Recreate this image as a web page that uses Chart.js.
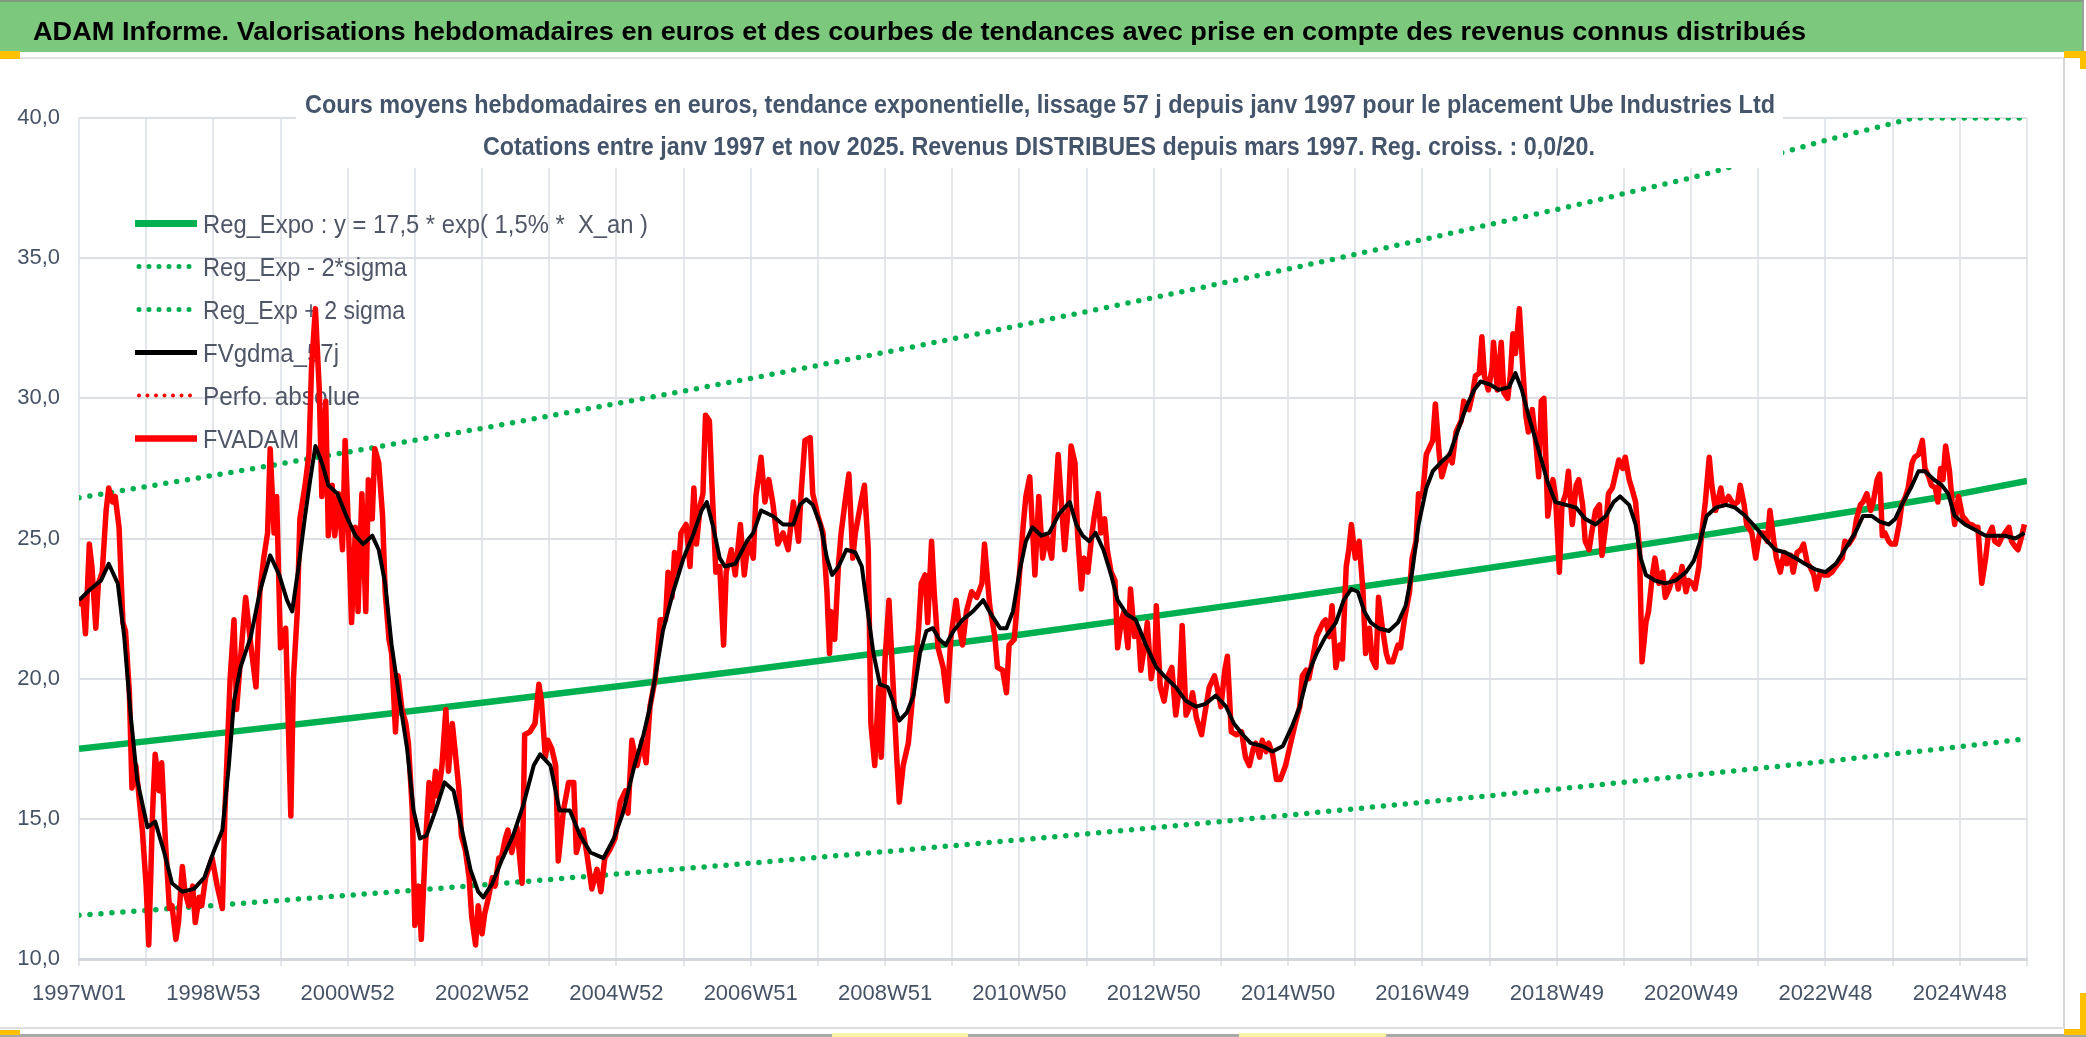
<!DOCTYPE html>
<html><head><meta charset="utf-8">
<script src="https://cdn.jsdelivr.net/npm/chart.js@4.4.1/dist/chart.umd.min.js"></script>
<style>
html,body{margin:0;padding:0;background:#fff;width:2086px;height:1037px;overflow:hidden;position:relative}
.bx{position:absolute}
#c{position:absolute;left:0;top:0;z-index:2}
</style></head>
<body>
<div class="bx" style="left:0;top:0;width:2084px;height:52px;background:#7cc87c;border-top:2px solid #7f9a7f;border-right:2px solid #9aa39a;box-sizing:border-box"></div>
<div class="bx" style="left:0;top:57px;width:2064px;height:2px;background:#dfe1e4"></div>
<div class="bx" style="left:2063px;top:58px;width:2px;height:971px;background:#d4d6d9"></div>
<div class="bx" style="left:0;top:1027px;width:2064px;height:2px;background:#dcdee1"></div>
<div class="bx" style="left:0;top:1034px;width:2086px;height:3px;background:#a9a9a9"></div>
<div class="bx" style="left:832px;top:1033px;width:136px;height:4px;background:#fbf3a6"></div>
<div class="bx" style="left:1239px;top:1033px;width:147px;height:4px;background:#fbf3a6"></div>
<div class="bx" style="left:0;top:51px;width:20px;height:8px;background:#ffc000"></div>
<div class="bx" style="left:2064px;top:51px;width:22px;height:7px;background:#ffc000"></div>
<div class="bx" style="left:2080px;top:51px;width:6px;height:18px;background:#ffc000"></div>
<div class="bx" style="left:0;top:1030px;width:20px;height:5px;background:#ffc000"></div>
<div class="bx" style="left:2080px;top:993px;width:6px;height:42px;background:#ffc000"></div>
<div class="bx" style="left:2064px;top:1029px;width:22px;height:6px;background:#ffc000"></div>
<canvas id="c" width="2086" height="1037"></canvas>
<script>
// ---------- DATA ----------
const tickLabels = ['1997W01','1998W53','2000W52','2002W52','2004W52','2006W51','2008W51','2010W50','2012W50','2014W50','2016W49','2018W49','2020W49','2022W48','2024W48'];

const fvadamWeeks = [0,3,5,8,10,13,15,18,21,23,26,28,31,34,36,39,41,44,46,49,52,54,57,59,62,64,67,70,72,75,77,80,82,85,88,90,93,95,98,103,107,111,113,117,120,122,125,129,133,137,140,143,146,148,151,153,156,160,164,166,169,171,175,178,180,183,186,188,191,193,196,198,201,204,206,209,211,214,216,219,222,224,227,229,232,235,237,240,242,245,247,250,253,255,258,260,263,265,268,271,273,276,278,281,284,286,289,291,294,296,299,302,304,307,309,312,314,317,320,322,325,327,330,332,335,339,343,345,349,353,356,358,361,363,366,369,371,375,379,
383,385,388,390,393,397,401,404,407,411,415,419,423,425,428,432,436,439,442,446,450,454,456,459,461,464,466,470,473,476,478,481,483,485,488,490,493,496,499,501,505,508,512,515,518,522,524,528,531,534,537,541,545,549,553,557,559,562,566,568,572,576,579,581,582,585,588,590,593,596,599,601,605,608,611,613,616,619,621,624,627,630,633,635,638,642,646,650,652,655,657,660,662,665,669,672,675,679,682,684,687,691,695,699,701,705,709,711,715,718,720,724,727,731,733,736,740,743,746,749,753,755,758,
760,763,766,768,771,773,776,778,781,784,786,789,791,794,796,799,802,804,807,809,812,814,817,820,822,825,827,830,833,834,837,840,843,846,849,852,854,857,860,862,865,869,871,875,879,881,884,887,889,892,896,900,903,906,909,911,914,916,919,921,924,927,930,934,937,941,945,947,950,952,955,958,960,963,965,968,970,973,976,978,981,983,985,988,991,994,996,999,1001,1004,1006,1009,1012,1014,1017,1021,1023,1026,1030,1032,1035,1037,1040,1043,1045,1048,1050,1053,1055,1058,1061,1063,1066,1070,1072,1076,1079,1081,1084,1086,1088,1091,1094,1095,1098,1101,1103,1106,1108,1110,1112,1115,1117,1120,1122,1125,1128,1130,1132,1134,1137,
1141,1143,1146,1148,1151,1153,1156,1159,1161,1164,1166,1169,1171,1174,1177,1179,1182,1184,1187,1189,1192,1195,1197,1200,1202,1205,1208,1210,1213,1215,1218,1220,1223,1226,1228,1231,1233,1236,1238,1241,1244,1246,1249,1251,1254,1256,1259,1262,1264,1267,1271,1273,1277,1281,1284,1286,1289,1291,1295,1298,1301,1304,1307,1309,1312,1314,1317,1320,1322,1325,1327,1330,1333,1335,1338,1340,1343,1345,1348,1351,1354,1357,1360,1365,1367,1370,1374,1376,1379,1381,1384,1387,1389,1392,1394,1396,1398,1401,1403,1406,1409,1411,1414,1416,1419,1421,1424,1427,1429,1432,1434,1437,1439,1441,1443,1445,1448,1450,1452,1455,1458,1460,1463,1465,1468,1470,1473,1476,1478,1481,1483,1486,1488,1491,1494,1496,1499,1501,1504,1506];

const fvadamValues = [22.6,22.8,21.6,24.8,24.0,21.8,23.4,23.8,26.0,26.8,26.3,26.5,25.4,22.0,21.7,19.5,16.1,16.9,16.0,14.6,12.6,10.5,15.3,17.3,16.0,17.0,14.1,11.8,11.9,10.7,11.3,13.3,12.4,11.9,12.6,11.3,12.2,11.9,12.9,13.6,12.6,11.8,15.3,20.0,22.1,18.9,20.7,22.9,21.2,19.7,23.1,24.3,25.2,28.2,25.2,26.5,21.1,21.8,15.1,20.0,22.4,25.7,26.9,28.0,31.1,33.2,30.3,26.5,29.9,25.1,26.9,25.1,26.6,24.6,28.5,24.8,22.0,25.4,22.4,26.6,22.4,27.1,25.7,28.2,27.7,25.8,23.1,21.4,20.9,18.1,20.1,18.9,18.4,17.7,15.3,11.2,12.6,10.7,13.9,16.3,15.3,16.7,15.8,16.9,18.9,16.7,18.4,17.5,16.1,14.4,13.9,12.9,11.5,10.5,11.9,10.9,11.6,12.2,12.9,12.6,13.6,13.6,14.3,14.6,13.8,14.7,12.7,18.0,18.1,18.4,19.8,19.2,17.2,17.8,17.5,16.9,13.5,15.3,16.3,
16.3,13.8,14.3,14.6,13.8,12.5,13.2,12.4,13.6,13.9,14.3,15.6,16.0,15.2,17.8,16.9,17.8,17.0,19.0,20.0,22.1,22.1,23.8,22.9,24.5,23.8,25.2,25.5,24.0,26.8,24.8,26.2,26.6,29.4,29.2,26.9,23.8,24.0,21.2,23.8,24.6,23.7,25.5,23.7,24.9,24.3,26.5,27.9,26.3,27.1,26.3,24.8,25.2,24.6,26.3,24.9,26.6,28.5,28.6,26.6,25.8,25.2,23.1,20.9,22.4,21.4,24.1,25.2,26.3,27.3,24.3,25.2,26.2,26.9,24.6,18.4,16.9,19.7,17.2,20.7,22.8,20.0,17.2,15.6,16.9,17.7,19.7,21.8,23.4,23.7,22.0,24.9,23.1,21.1,20.4,19.2,21.5,22.8,21.7,21.2,22.4,23.1,22.9,23.4,24.8,22.6,21.5,20.4,20.3,19.5,21.2,21.4,23.1,25.5,26.5,27.2,23.7,26.5,24.3,25.1,24.3,25.8,28.0,
26.6,24.6,26.2,28.3,27.7,25.2,23.2,24.3,23.8,25.1,25.8,26.6,25.2,25.7,24.6,23.8,23.5,21.1,22.1,22.4,21.1,23.2,21.5,21.8,20.3,21.2,22.0,20.0,20.9,22.6,19.7,19.2,20.1,20.4,18.7,19.7,21.9,18.7,19.0,19.5,18.6,18.0,18.6,19.7,20.1,19.7,19.0,20.3,20.8,18.1,18.0,18.1,17.2,16.9,17.5,17.7,17.2,17.8,17.4,17.7,17.3,16.4,16.4,16.9,17.5,18.3,19.0,20.1,20.3,20.0,20.7,21.5,21.7,22.0,22.1,21.5,22.6,20.4,21.2,20.7,24.0,24.6,25.5,24.3,24.9,23.1,20.9,21.8,20.7,20.4,22.9,21.8,20.9,20.6,20.6,21.2,21.1,22.1,23.1,24.3,24.9,26.6,26.5,28.0,28.2,28.5,29.8,28.0,27.2,27.7,28.0,27.7,28.8,29.2,29.9,29.6,30.2,30.8,30.9,32.2,30.8,30.3,31.1,32.0,30.3,32.0,30.2,30.0,30.8,32.3,31.6,33.2,31.6,29.4,28.8,29.6,28.3,27.2,29.9,30.0,25.8,
27.1,26.5,23.8,26.2,26.6,27.4,25.5,26.9,27.1,26.2,24.9,24.6,25.2,26.0,26.2,24.4,25.5,26.6,26.8,27.2,27.8,27.5,27.9,27.1,26.8,26.3,24.6,20.6,22.0,22.4,23.7,24.3,23.4,23.8,22.9,23.2,23.5,23.7,23.2,24.0,23.1,23.5,23.4,23.2,24.0,25.1,26.3,27.9,26.9,26.0,26.8,26.2,26.5,26.2,26.3,26.9,26.2,25.5,25.2,24.3,25.2,25.2,24.9,26.0,24.9,24.3,23.8,24.5,24.1,24.4,23.8,24.5,24.6,24.8,24.1,24.0,23.7,23.2,23.8,23.7,23.7,23.8,24.0,24.3,24.9,24.8,25.1,25.7,26.2,26.3,26.6,26.0,26.3,27.1,27.3,25.1,25.2,24.9,24.8,24.8,25.5,26.2,26.5,26.8,27.7,27.9,28.0,28.5,27.5,27.2,26.9,26.8,26.3,27.5,27.1,28.3,27.4,26.3,25.5,26.5,25.8,25.7,25.5,25.5,25.4,25.4,23.4,24.3,25.1,25.4,24.9,24.8,25.0,25.2,25.4,24.9,24.7,24.6,25.1,25.5];

const fvgdmaWeeks = [0,9,17,23,30,35,40,45,53,59,66,72,80,89,97,104,111,116,120,125,133,140,148,155,161,165,170,175,179,183,188,193,200,207,214,220,227,232,237,242,249,254,259,264,269,276,283,290,296,303,309,313,320,327,336,344,352,357,365,372,380,388,396,406,414,421,430,437,442,447,452,460,468,476,482,486,491,496,500,508,517,522,528,537,545,553,558,563,568,574,579,583,588,594,601,606,610,615,620,626,630,635,641,646,651,656,661,666,671,677,684,692,700,706,713,718,723,728,733,738,745,751,759,767,772,777,782,787,793,799,804,811,818,826,834,840,849,857,865,872,880,888,894,901,907,916,924,932,939,945,951,958,965,973,979,985,990,995,1000,1006,1014,1021,1027,1032,1037,1043,1048,1054,1061,1067,1074,1080,1085,1092,1099,1107,1112,1117,1122,1129,1137,1143,1151,1159,1166,1174,1182,1188,1193,1200,1205,1209,1213,1220,1228,1236,1244,1250,1255,1260,1267,1275,1282,1290,1298,1305,1313,1321,1329,1336,1344,1352,1360,1367,1375,1381,1388,1394,1401,1406,1411,1418,1424,1429,1436,1442,1447,1452,1460,1468,1476,1483,1491,1499,1506];

const fvgdmaValues = [22.8,23.2,23.5,24.1,23.4,21.5,18.7,16.4,14.7,14.9,13.8,12.7,12.4,12.5,12.9,13.8,14.6,16.9,19.2,20.4,21.5,23.1,24.4,23.7,22.8,22.4,24.0,25.8,27.1,28.3,27.7,26.9,26.6,25.8,25.1,24.8,25.1,24.6,23.4,21.2,19.0,17.5,15.3,14.3,14.4,15.3,16.3,16.0,14.7,13.2,12.4,12.2,12.7,13.5,14.4,15.5,16.9,17.3,16.9,15.3,15.3,14.4,13.8,13.6,14.3,15.2,16.9,18.0,19.0,20.3,21.7,23.1,24.3,25.2,26.0,26.3,25.4,24.3,24.0,24.1,24.9,25.2,26.0,25.8,25.5,25.5,26.2,26.4,26.2,25.5,24.3,23.7,24.0,24.6,24.5,24.0,22.6,20.9,19.8,19.7,19.2,18.5,18.8,19.4,20.9,21.7,21.8,21.4,21.2,21.7,22.1,22.4,22.8,22.3,21.8,21.8,22.4,23.8,24.9,25.4,25.1,25.2,25.9,26.3,25.5,25.1,24.9,25.2,24.6,23.7,22.8,22.3,22.1,21.2,20.4,20.1,19.7,19.2,19.0,19.1,19.4,19.0,18.4,18.0,17.7,17.6,17.4,17.6,18.3,19.0,20.1,20.9,21.5,22.0,22.8,23.2,23.1,22.4,22.0,21.8,21.7,22.0,22.6,23.8,25.5,26.8,27.4,27.7,28.0,28.8,29.7,30.3,30.6,30.5,30.3,30.4,30.9,30.3,29.4,28.3,27.0,26.3,26.2,26.1,25.7,25.5,25.8,26.3,26.5,26.2,25.5,24.3,23.7,23.5,23.4,23.5,23.8,24.2,24.9,25.8,26.1,26.2,26.1,25.8,25.4,25.0,24.6,24.5,24.3,24.1,23.9,23.8,24.1,24.6,25.2,25.8,25.8,25.6,25.5,25.7,26.2,26.8,27.4,27.4,27.1,26.9,26.6,25.8,25.5,25.3,25.1,25.1,25.1,25.0,25.2];

const trendWeeks = [0,104,208,312,416,520,624,728,832,936,1040,1144,1248,1352,1456,1508];
const regExpoValues = [17.50,18.03,18.58,19.14,19.72,20.32,20.94,21.57,22.23,22.90,23.60,24.31,25.05,25.81,26.59,27.05];
const regLowValues  = [11.56,11.91,12.27,12.64,13.03,13.42,13.83,14.25,14.68,15.13,15.59,16.06,16.55,17.05,17.57,17.86];
const regHighWeeks  = [0,104,208,312,416,520,624,728,832,936,1040,1144,1248,1352,1420,1508];
const regHighValues = [26.45,27.25,28.08,28.93,29.81,30.71,31.64,32.60,33.59,34.61,35.66,36.74,37.86,39.20,40.0,40.0];

const bannerTitle = 'ADAM Informe. Valorisations hebdomadaires en euros et des courbes de tendances avec prise en compte des revenus connus distribués';
const subTitle1 = 'Cours moyens hebdomadaires en euros, tendance exponentielle, lissage 57 j depuis janv 1997 pour le placement Ube Industries Ltd';
const subTitle2 = 'Cotations entre janv 1997 et nov 2025. Revenus DISTRIBUES depuis mars 1997. Reg. croiss. : 0,0/20.';

// ---------- helpers ----------
const pts = (xs, ys) => xs.map((x, i) => ({x: x, y: ys[i]}));
const FONT = "'Liberation Sans Narrow','Liberation Sans',Arial,sans-serif";
const TXT = '#465366';

function fitText(ctx, text, left, baseline, width, font, color) {
  ctx.save();
  ctx.font = font;
  ctx.fillStyle = color;
  ctx.textAlign = 'left';
  ctx.textBaseline = 'alphabetic';
  const m = ctx.measureText(text).width;
  ctx.translate(left, baseline);
  ctx.scale(width / m, 1);
  ctx.fillText(text, 0, 0);
  ctx.restore();
}

const legendOrder = [
  {idx: 3, w: 445}, {idx: 4, w: 204}, {idx: 5, w: 202},
  {idx: 0, w: 136}, {idx: 2, w: 157}, {idx: 1, w: 96}
];

const legendPlugin = {
  id: 'customLegend',
  beforeDatasetsDraw(chart) {
    const ctx = chart.ctx;
    legendOrder.forEach((e, i) => {
      const ds = chart.data.datasets[e.idx];
      const cy = 223.5 + 43 * i;
      ctx.save();
      ctx.strokeStyle = ds.borderColor;
      ctx.lineWidth = ds.legendWidth;
      ctx.lineCap = ds.borderDash ? 'round' : 'butt';
      ctx.setLineDash(ds.borderDash ? [0, ds.legendGap] : []);
      ctx.beginPath();
      ctx.moveTo(ds.borderDash ? 139 : 135, cy);
      ctx.lineTo(197, cy);
      ctx.stroke();
      ctx.restore();
      fitText(ctx, ds.label, 203, cy + 9, e.w, "25px " + FONT, '#4f5666');
    });
  },
  afterDatasetsDraw(chart) {
    const ctx = chart.ctx;
    ctx.save();
    ctx.fillStyle = '#ffffff';
    ctx.fillRect(296, 80, 1487, 88);
    ctx.restore();
    fitText(ctx, subTitle1, 305, 113, 1470, "bold 25px " + FONT, '#44546a');
    fitText(ctx, subTitle2, 483, 155, 1112, "bold 25px " + FONT, '#44546a');
    fitText(ctx, bannerTitle, 33, 40, 1773, "bold 26px " + FONT, '#000000');
  }
};

new Chart(document.getElementById('c'), {
  type: 'line',
  data: {
    datasets: [
      {label: 'FVgdma_57j', data: pts(fvgdmaWeeks, fvgdmaValues), borderColor: '#000000', borderWidth: 4, legendWidth: 5, order: 0},
      {label: 'FVADAM', data: pts(fvadamWeeks, fvadamValues), borderColor: '#ff0000', borderWidth: 5.5, legendWidth: 6.5, order: 1},
      {label: 'Perfo. absolue', data: [], borderColor: '#ff0000', borderWidth: 3, borderDash: [0, 8], legendGap: 8.5, legendWidth: 4, order: 2},
      {label: 'Reg_Expo : y = 17,5 * exp( 1,5% *  X_an )', data: pts(trendWeeks, regExpoValues), borderColor: '#00b050', borderWidth: 6.5, legendWidth: 7, order: 3},
      {label: 'Reg_Exp - 2*sigma', data: pts(trendWeeks, regLowValues), borderColor: '#00b050', borderWidth: 5.5, borderDash: [0, 11], borderCapStyle: 'round', legendGap: 10, legendWidth: 5, order: 4},
      {label: 'Reg_Exp + 2 sigma', data: pts(regHighWeeks, regHighValues), borderColor: '#00b050', borderWidth: 5.5, borderDash: [0, 11], borderCapStyle: 'round', legendGap: 10, legendWidth: 5, order: 5}
    ]
  },
  options: {
    responsive: false,
    animation: false,
    devicePixelRatio: 1,
    elements: {point: {radius: 0}, line: {tension: 0, borderJoinStyle: 'round'}},
    layout: {padding: {top: 118, right: 59, bottom: 8, left: 0}},
    plugins: {legend: {display: false}, title: {display: false}, tooltip: {enabled: false}},
    scales: {
      x: {
        type: 'linear', min: 0, max: 1508,
        afterBuildTicks: (s) => {
          const t = [];
          for (let v = 0; v <= 1508; v += 52) t.push({value: v});
          s.ticks = t;
        },
        afterFit: (s) => { s.height = 70; },
        ticks: {
          autoSkip: false, maxRotation: 0, minRotation: 0, padding: 15,
          color: TXT, font: {family: FONT, size: 22},
          callback: (v) => (v % 104 === 0 ? tickLabels[v / 104] : '')
        },
        grid: {color: '#e3e6ea', lineWidth: 2, tickLength: 7, drawTicks: true},
        border: {display: true, color: '#d3d6db', width: 3}
      },
      y: {
        min: 10, max: 40,
        afterFit: (s) => { s.width = 79; },
        ticks: {
          stepSize: 5, padding: 19, color: TXT, font: {family: FONT, size: 22},
          callback: (v) => v.toFixed(1).replace('.', ',')
        },
        grid: {color: '#dcdfe4', lineWidth: 2, drawTicks: false},
        border: {display: false}
      }
    }
  },
  plugins: [legendPlugin]
});
</script>
</body></html>
